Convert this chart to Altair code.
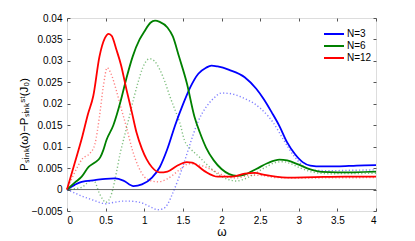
import altair as alt
import pandas as pd

# ---- data ----
series_names = ["N=3", "N=6", "N=12"]
series_colors = ["#0000ff", "#008000", "#ff0000"]

# solid curves
w3 = [0, 0.1, 0.19, 0.36, 0.5, 0.62, 0.73, 0.86, 0.97, 1.1, 1.2, 1.3, 1.4, 1.5, 1.6, 1.7, 1.8, 1.87,
      1.95, 2.1, 2.3, 2.45, 2.55, 2.65, 2.75, 2.85, 2.95, 3.05, 3.15, 3.3, 3.5, 3.75, 4.0]
p3 = [0, 0.0011, 0.0018, 0.0022, 0.0025, 0.0026, 0.0021, 0.0008, 0.0012, 0.0028, 0.0052, 0.0095, 0.015,
      0.0198, 0.024, 0.027, 0.0284, 0.0289, 0.0287, 0.0279, 0.0262, 0.0235, 0.021, 0.018, 0.0148, 0.011,
      0.0083, 0.0064, 0.0056, 0.0054, 0.0054, 0.0056, 0.0057]

w6 = [0, 0.1, 0.19, 0.28, 0.36, 0.43, 0.47, 0.51, 0.6, 0.7, 0.77, 0.85, 0.94, 1.0, 1.08, 1.14, 1.2, 1.3,
      1.37, 1.45, 1.55, 1.65, 1.72, 1.8, 1.9, 2.0, 2.1, 2.2, 2.3, 2.45, 2.6, 2.75, 2.85, 3.0, 3.15, 3.3,
      3.5, 4.0]
p6 = [0, 0.0016, 0.003, 0.0053, 0.0063, 0.0075, 0.0092, 0.0115, 0.015, 0.021, 0.026, 0.031, 0.035, 0.0368,
      0.0389, 0.0394, 0.0391, 0.0378, 0.0357, 0.031, 0.0249, 0.017, 0.0133, 0.0098, 0.0068, 0.0048, 0.0036,
      0.0032, 0.0035, 0.0048, 0.0062, 0.007, 0.0068, 0.0058, 0.0047, 0.0041, 0.004, 0.0042]

w12 = [0, 0.1, 0.2, 0.27, 0.34, 0.42, 0.49, 0.54, 0.58, 0.64, 0.7, 0.77, 0.84, 0.9, 0.97, 1.03, 1.1, 1.2,
       1.3, 1.42, 1.55, 1.62, 1.78, 1.95, 2.13, 2.3, 2.43, 2.56, 2.7, 2.85, 3.2, 3.6, 4.0]
p12 = [0, 0.0062, 0.0125, 0.0175, 0.0218, 0.031, 0.0353, 0.0363, 0.0358, 0.0326, 0.029, 0.0233, 0.018,
       0.0133, 0.0095, 0.0071, 0.0052, 0.004, 0.0042, 0.0055, 0.0064, 0.0063, 0.0043, 0.003, 0.003, 0.0037,
       0.0039, 0.0034, 0.003, 0.0028, 0.0029, 0.003, 0.003]

# dotted curves
w3d = [0, 0.1, 0.19, 0.28, 0.36, 0.44, 0.5, 0.57, 0.64, 0.72, 0.8, 0.88, 0.95, 1.02, 1.1, 1.17, 1.24, 1.3,
       1.36, 1.44, 1.52, 1.6, 1.7, 1.8, 1.9, 2.0, 2.1, 2.28, 2.5, 2.6, 2.67, 2.8, 2.94, 3.07, 3.2, 3.4,
       3.7, 4.0]
p3d = [0, -0.0008, -0.0015, -0.0021, -0.0026, -0.0031, -0.0033, -0.0031, -0.0029, -0.0027, -0.0027,
       -0.0028, -0.003, -0.0035, -0.0042, -0.0047, -0.0045, -0.0035, -0.0012, 0.0024, 0.0065, 0.011, 0.016,
       0.0192, 0.0213, 0.0225, 0.0224, 0.0214, 0.019, 0.0172, 0.0156, 0.0117, 0.0078, 0.0053, 0.0045,
       0.0044, 0.0045, 0.0046]

w6d = [0, 0.1, 0.19, 0.26, 0.31, 0.36, 0.41, 0.46, 0.5, 0.54, 0.58, 0.64, 0.69, 0.73, 0.8, 0.86, 0.92,
       0.98, 1.07, 1.13, 1.2, 1.27, 1.33, 1.4, 1.46, 1.52, 1.6, 1.7, 1.83, 1.95, 2.08, 2.19, 2.34, 2.56,
       2.7, 2.8, 2.9, 3.05, 3.2, 3.4, 4.0]
p6d = [0, 0.0002, 0.0005, 0.0015, 0.0021, 0.0018, -0.0005, -0.0022, -0.003, -0.0025, -0.0008, 0.004,
       0.0086, 0.0115, 0.0165, 0.021, 0.025, 0.0284, 0.0305, 0.03, 0.028, 0.025, 0.0218, 0.0185, 0.0156,
       0.0115, 0.0095, 0.0078, 0.0055, 0.0036, 0.0024, 0.002, 0.0028, 0.0051, 0.0063, 0.0065, 0.006,
       0.0048, 0.004, 0.0037, 0.0038]

w12d = [0, 0.1, 0.2, 0.3, 0.36, 0.42, 0.47, 0.52, 0.57, 0.64, 0.7, 0.77, 0.85, 0.92, 1.0, 1.1, 1.18, 1.3,
        1.45, 1.58, 1.7, 1.85, 2.0, 2.1, 2.2, 2.35, 2.5, 2.7, 3.0, 4.0]
p12d = [0, 0.004, 0.0072, 0.0085, 0.0105, 0.017, 0.024, 0.0284, 0.027, 0.023, 0.019, 0.0145, 0.009,
        0.0055, 0.003, 0.002, 0.0018, 0.0025, 0.0045, 0.006, 0.0058, 0.0048, 0.0035, 0.0028, 0.0027,
        0.0033, 0.0033, 0.0028, 0.0027, 0.0028]

x_ticks = [0, 0.5, 1, 1.5, 2, 2.5, 3, 3.5, 4]
y_ticks = [-0.005, 0, 0.005, 0.01, 0.015, 0.02, 0.025, 0.03, 0.035, 0.04]


def frame(name, w, p):
    return pd.DataFrame({"omega": w, "P": p, "series": name})


solid = pd.concat([frame("N=3", w3, p3), frame("N=6", w6, p6), frame("N=12", w12, p12)])
dotted = pd.concat([frame("N=3", w3d, p3d), frame("N=6", w6d, p6d), frame("N=12", w12d, p12d)])
zero = pd.DataFrame({"P": [0]})

W, H = 309, 193
FONT = "Liberation Sans"

xs = alt.Scale(domain=[0, 4], nice=False, zero=False)
ys = alt.Scale(domain=[-0.005, 0.04], nice=False, zero=False)

# axis at the bottom edge, ticks inward, labels below
x_axis_bottom = alt.Axis(orient="top", offset=-H, values=x_ticks, format="~g", domain=False, grid=False,
                         tickSize=3, tickColor="#555", labelPadding=-7, labelBaseline="top",
                         labelFont=FONT, labelFontSize=10, labelColor="black",
                         title="ω", titleFont=FONT, titleFontSize=12, titleFontWeight="normal",
                         titleY=24, titleBaseline="alphabetic", titleColor="black")
# axis at the top edge, ticks inward
x_axis_top = alt.Axis(orient="bottom", offset=-H, values=x_ticks, domain=False, grid=False,
                      tickSize=3, tickColor="#555", labels=False, title=None)
# axis at the left edge, ticks inward, labels on the left
y_axis_left = alt.Axis(orient="right", offset=-W, values=y_ticks, format="~g", domain=False, grid=False,
                       tickSize=3, tickColor="#555", labelPadding=-8, labelAlign="right",
                       labelFont=FONT, labelFontSize=10, labelColor="black",
                       title="Pₛᵢₙₖ(ω)−Pₛᵢₙₖˢᵗ(J₀)", titleFont=FONT, titleFontSize=11.5,
                       titleFontWeight="normal", titleAngle=270, titleX=-40, titleY=106,
                       titleAlign="center", titleBaseline="alphabetic", titleColor="black")
y_axis_right = alt.Axis(orient="left", offset=-W, values=y_ticks, domain=False, grid=False,
                        tickSize=3, tickColor="#555", labels=False, title=None)

zero_rule = alt.Chart(zero).mark_rule(color="#444", strokeWidth=0.8).encode(
    y=alt.Y("P:Q", scale=ys, axis=y_axis_left),
    x=alt.datum(0, scale=xs, axis=x_axis_bottom),
    x2=alt.datum(4),
)

dot_layer = alt.Chart(dotted).mark_line(strokeDash=[1.2, 2.2], strokeWidth=1.4, opacity=0.5,
                                        interpolate="monotone").encode(
    x=alt.X("omega:Q", scale=xs, axis=None),
    y=alt.Y("P:Q", scale=ys, axis=None),
    color=alt.Color("series:N", scale=alt.Scale(domain=series_names, range=series_colors), legend=None),
    detail="series:N",
)

solid_layer = alt.Chart(solid).mark_line(strokeWidth=1.8, interpolate="monotone").encode(
    x=alt.X("omega:Q", scale=xs, axis=x_axis_top),
    y=alt.Y("P:Q", scale=ys, axis=y_axis_right),
    color=alt.Color("series:N", scale=alt.Scale(domain=series_names, range=series_colors),
                    legend=alt.Legend(title=None, orient="none", legendX=261, legendY=10, padding=0,
                                      symbolType="M-2,0H2", symbolSize=100, symbolStrokeWidth=2,
                                      rowPadding=1, labelOffset=7, labelFont=FONT, labelFontSize=10,
                                      labelColor="black")),
)

chart = alt.layer(zero_rule, dot_layer, solid_layer).resolve_scale(
    color="independent"
).resolve_axis(x="independent", y="independent").properties(
    width=W, height=H,
    autosize=alt.AutoSizeParams(type="none"),
    padding={"left": 59, "top": 10, "right": 20, "bottom": 30},
).configure_view(stroke="#666", strokeWidth=1).configure(background="white")

chart.save("out.html", embed_options={"renderer": "svg", "actions": False})
